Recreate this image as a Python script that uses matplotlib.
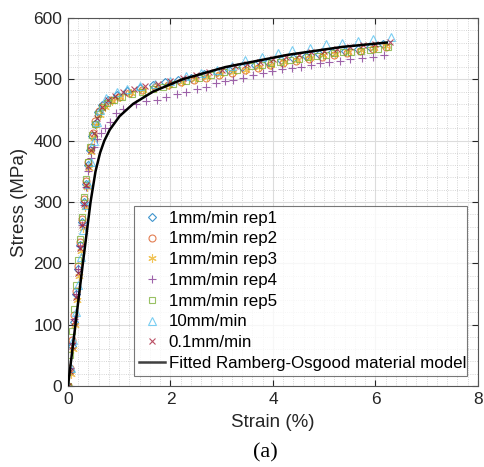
import numpy as np
import matplotlib
matplotlib.use('Agg')
import matplotlib.pyplot as plt
from matplotlib.ticker import MultipleLocator

plt.rcParams['font.family'] = ['Liberation Sans', 'DejaVu Sans']

# strain (%) / stress (MPa)
rep1_x = [0, 0.03, 0.07, 0.11, 0.15, 0.19, 0.23, 0.27, 0.31, 0.35, 0.39, 0.43, 0.47, 0.52, 0.58, 0.66, 0.78, 0.95,
          1.15, 1.4, 1.65, 1.9, 2.15, 2.4, 2.65, 2.9, 3.15, 3.4, 3.65, 3.9, 4.15, 4.4, 4.65, 4.9, 5.15, 5.4, 5.65, 5.9, 6.15]
rep1_y = [0, 25, 65, 105, 150, 190, 230, 268, 300, 330, 360, 385, 408, 428, 446, 458, 467, 475,
          481, 486, 491, 495, 499, 503, 508, 512, 516, 520, 524, 528, 531, 535, 538, 541, 544, 547, 550, 553, 558]

rep2_x = [0, 0.04, 0.08, 0.12, 0.16, 0.2, 0.24, 0.28, 0.32, 0.36, 0.4, 0.44, 0.48, 0.53, 0.6, 0.7, 0.84, 1.0,
          1.2, 1.45, 1.7, 1.95, 2.2, 2.45, 2.7, 2.95, 3.2, 3.45, 3.7, 3.95, 4.2, 4.45, 4.7, 4.95, 5.2, 5.45, 5.7, 5.95, 6.2]
rep2_y = [0, 30, 75, 115, 155, 195, 235, 272, 305, 335, 365, 390, 412, 432, 448, 458, 466, 472,
          477, 482, 487, 491, 495, 499, 503, 507, 511, 515, 519, 523, 527, 530, 534, 537, 540, 543, 546, 549, 552]

rep3_x = [0, 0.05, 0.09, 0.13, 0.17, 0.21, 0.25, 0.29, 0.33, 0.37, 0.41, 0.45, 0.5, 0.55, 0.62, 0.72, 0.86, 1.02,
          1.22, 1.47, 1.72, 1.97, 2.22, 2.47, 2.72, 2.97, 3.22, 3.47, 3.72, 3.97, 4.22, 4.47, 4.72, 4.97, 5.22, 5.47,
          5.72, 5.97, 6.2]
rep3_y = [0, 20, 60, 100, 140, 180, 220, 258, 292, 325, 355, 382, 405, 425, 442, 455, 464, 471,
          477, 482, 487, 491, 496, 500, 504, 508, 512, 516, 520, 524, 528, 532, 535, 539, 542, 545,
          548, 551, 554]

rep4_x = [0, 0.04, 0.08, 0.12, 0.16, 0.2, 0.24, 0.28, 0.32, 0.36, 0.4, 0.45, 0.5, 0.57, 0.65, 0.73, 0.82, 0.93,
          1.07, 1.33, 1.52, 1.73, 1.92, 2.12, 2.31, 2.51, 2.70, 2.88, 3.06, 3.22, 3.41, 3.61, 3.80, 3.98, 4.17, 4.37,
          4.54, 4.74, 4.91, 5.09, 5.30, 5.50, 5.73, 5.95, 6.16]
rep4_y = [0, 30, 70, 110, 150, 190, 228, 262, 295, 325, 350, 372, 390, 402, 412, 420, 430, 445,
          451, 460, 465, 467, 472, 476, 480, 484, 488, 494, 497, 499, 503, 507, 510, 513, 517, 518,
          520, 524, 527, 528, 530, 533, 535, 536, 540]

rep5_x = [0, 0.03, 0.07, 0.11, 0.15, 0.19, 0.23, 0.27, 0.31, 0.35, 0.39, 0.43, 0.47, 0.52, 0.58, 0.66, 0.76, 0.9,
          1.05, 1.25, 1.45, 1.65, 1.85, 2.05, 2.3, 2.55, 2.8, 3.05, 3.3, 3.58, 3.78, 3.97, 4.13, 4.33, 4.51, 4.69,
          4.85, 5.03, 5.20, 5.37, 5.53, 5.71, 5.89, 6.05, 6.24]
rep5_y = [0, 50, 90, 125, 165, 205, 240, 275, 308, 338, 366, 390, 410, 428, 443, 455, 462, 467,
          472, 476, 480, 484, 488, 492, 497, 502, 507, 512, 516, 521, 524, 526, 529, 532, 534, 536,
          538, 540, 543, 544, 545, 547, 548, 550, 552]

fast_x = [0, 0.05, 0.1, 0.15, 0.2, 0.25, 0.3, 0.35, 0.4, 0.45, 0.5, 0.56, 0.62, 0.75, 0.95, 1.15, 1.4, 1.7,
          2.0, 2.3, 2.6, 2.9, 3.2, 3.45, 3.78, 4.09, 4.38, 4.72, 5.03, 5.34, 5.65, 5.96, 6.30]
fast_y = [0, 30, 75, 120, 165, 210, 255, 295, 330, 365, 400, 430, 450, 470, 480, 485, 489, 493,
          498, 505, 510, 515, 522, 532, 537, 543, 548, 551, 558, 560, 563, 566, 569]

slow_x = [0, 0.04, 0.08, 0.12, 0.16, 0.2, 0.24, 0.28, 0.32, 0.36, 0.4, 0.44, 0.5, 0.57, 0.66, 0.78, 0.92, 1.08,
          1.28, 1.5, 1.75, 2.0, 2.25, 2.5, 2.75, 3.0, 3.25, 3.5, 3.75, 4.0, 4.25, 4.5, 4.75, 5.0, 5.25, 5.5,
          5.75, 6.0, 6.28]
slow_y = [0, 25, 65, 105, 145, 185, 225, 262, 296, 328, 358, 385, 412, 437, 455, 466, 473, 479,
          484, 489, 493, 498, 502, 507, 512, 516, 521, 525, 529, 533, 537, 540, 544, 547, 550, 553,
          556, 558, 561]

fit_x = [0, 0.29, 0.44, 0.537, 0.625, 0.709, 0.816, 1.007, 1.27, 1.66, 2.23, 3.07, 4.29, 5.36, 6.22]
fit_y = [0, 200, 300, 350, 380, 400, 418, 440, 460, 480, 500, 520, 540, 553, 560]

series = [
    (rep1_x, rep1_y, 'D', '#0072BD', 4.5, '1mm/min rep1'),
    (rep2_x, rep2_y, 'o', '#D95319', 5, '1mm/min rep2'),
    (rep3_x, rep3_y, (6, 2, 0), '#EDB120', 6, '1mm/min rep3'),
    (rep4_x, rep4_y, '+', '#7E2F8E', 6, '1mm/min rep4'),
    (rep5_x, rep5_y, 's', '#77AC30', 4.5, '1mm/min rep5'),
    (fast_x, fast_y, '^', '#4DBEEE', 6, '10mm/min'),
    (slow_x, slow_y, 'x', '#A2142F', 4.5, '0.1mm/min'),
]

fig = plt.figure(figsize=(4.84, 4.67), dpi=100)
ax = fig.add_axes([0.1405, 0.1734, 0.847, 0.788])

for x, y, m, c, ms, lab in series:
    ax.plot(x, y, linestyle='none', marker=m, markersize=ms, markerfacecolor='none',
            markeredgecolor=c, markeredgewidth=0.8, alpha=0.75, label=lab)

ax.plot(fit_x, fit_y, color='black', linewidth=1.8, label='Fitted Ramberg-Osgood material model', zorder=5)

ax.set_xlim(0, 8)
ax.set_ylim(0, 600)
ax.xaxis.set_major_locator(MultipleLocator(2))
ax.xaxis.set_minor_locator(MultipleLocator(0.2))
ax.yaxis.set_major_locator(MultipleLocator(100))
ax.yaxis.set_minor_locator(MultipleLocator(20))
ax.grid(True, which='major', color='#dcdcdc', linewidth=0.8)
ax.grid(True, which='minor', color='#c8c8c8', linestyle=':', linewidth=0.6)
ax.set_axisbelow(True)
ax.tick_params(which='both', direction='in', top=True, right=True, labelsize=12.5, colors='#262626')
ax.tick_params(which='minor', length=0)
ax.tick_params(which='major', length=4, pad=4)
for s in ax.spines.values():
    s.set_color('#555555')
    s.set_linewidth(0.8)

ax.set_xlabel('Strain (%)', fontsize=13.5, color='#262626', labelpad=5)
ax.set_ylabel('Stress (MPa)', fontsize=13.5, color='#262626', labelpad=4)

leg = ax.legend(loc='lower left', bbox_to_anchor=(0.161, 0.027, 0.812, 0.462), mode='expand',
                fontsize=12.2, frameon=True, fancybox=False, edgecolor='#555555',
                borderpad=0.3, labelspacing=0.34, handlelength=1.5, handletextpad=0.25,
                borderaxespad=0)
leg.get_frame().set_linewidth(0.8)
for h in leg.legend_handles:
    h.set_alpha(0.75)

fig.text(0.548, 0.03, '(a)', fontsize=16, family='Liberation Serif', ha='center', va='center')

fig.savefig('out.png', dpi=100)
